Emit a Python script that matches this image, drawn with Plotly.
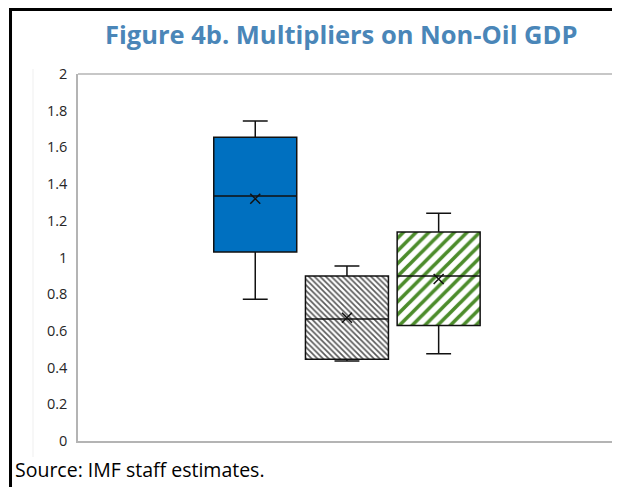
import plotly.graph_objects as go

# box statistics (three series, no category labels shown)
series = ["Series 1", "Series 2", "Series 3"]
q1 = [1.03, 0.445, 0.63]
median = [1.335, 0.665, 0.899]
q3 = [1.655, 0.899, 1.139]
lower = [0.772, 0.436, 0.476]
upper = [1.744, 0.954, 1.241]
means = [1.32, 0.672, 0.883]

fills = ["#0070C0", None, None]
patterns = [None,
            dict(shape="\\", size=4, solidity=0.42, fgcolor="#595959", bgcolor="white",
                 fgopacity=1, fillmode="replace"),
            dict(shape="/", size=9, solidity=0.4, fgcolor="#4C8C2B", bgcolor="white",
                 fgopacity=1, fillmode="replace")]

BOX_W = 0.905

fig = go.Figure()

# hatched bodies (box traces can't take patterns, so bars sit under the boxes)
for i, name in enumerate(series):
    if patterns[i] is None:
        continue
    fig.add_trace(go.Bar(
        x=[name], y=[q3[i] - q1[i]], base=[q1[i]], width=[BOX_W],
        marker=dict(color="white", pattern=patterns[i], line=dict(width=0)),
        showlegend=False, hoverinfo="skip",
    ))

for i, name in enumerate(series):
    fig.add_trace(go.Box(
        x=[name], q1=[q1[i]], median=[median[i]], q3=[q3[i]],
        lowerfence=[lower[i]], upperfence=[upper[i]],
        width=BOX_W, whiskerwidth=0.3, boxpoints=False,
        fillcolor=fills[i] or "rgba(0,0,0,0)",
        line=dict(color="#111111", width=1.5),
        showlegend=False,
    ))

fig.add_trace(go.Scatter(
    x=series, y=means, mode="markers",
    marker=dict(symbol="x-thin", size=10, line=dict(color="#111111", width=1.5)),
    showlegend=False, hoverinfo="skip",
))

# page body adds an 8px offset, margins are trimmed to compensate
fig.update_layout(
    width=620, height=487,
    margin=dict(l=70, r=0, t=66, b=54),
    paper_bgcolor="white", plot_bgcolor="white",
    barmode="overlay",
    font=dict(family="Open Sans", color="#262626"),
    xaxis=dict(type="category", categoryorder="array", categoryarray=series,
               range=[-1.933, 4.065], showticklabels=False,
               showgrid=False, zeroline=False, showline=True,
               linecolor="#B4B4B4", linewidth=1.5),
    yaxis=dict(range=[0, 2], dtick=0.2, showgrid=False, zeroline=False,
               showline=True, linecolor="#B4B4B4", linewidth=1.5,
               ticks="", ticklabelstandoff=6, tickfont=dict(size=14.5, color="#262626")),
    shapes=[
        dict(type="line", xref="paper", yref="paper", x0=0, x1=1, y0=1, y1=1,
             line=dict(color="#B4B4B4", width=1.5)),
        dict(type="line", xref="paper", yref="paper", x0=-0.0818, x1=-0.0818,
             y0=1.0136, y1=-0.0436, line=dict(color="#EFEFEF", width=1)),
        dict(type="rect", xref="paper", yref="paper", x0=-0.1227, x1=1.2,
             y0=-0.3, y1=1.1757, line=dict(color="black", width=3)),
    ],
    annotations=[
        dict(text="<b>Figure 4b. Multipliers on Non-Oil GDP</b>", xref="paper", yref="paper",
             x=0.478, y=1.109, xanchor="center", yanchor="middle", showarrow=False,
             font=dict(family="Open Sans", size=25.5, color="#4A86B8")),
        dict(text="Source: IMF staff estimates.", xref="paper", yref="paper",
             x=-0.118, y=-0.079, xanchor="left", yanchor="middle", showarrow=False,
             font=dict(family="Open Sans", size=19.5, color="black")),
    ],
)

fig.write_html("out.html")
